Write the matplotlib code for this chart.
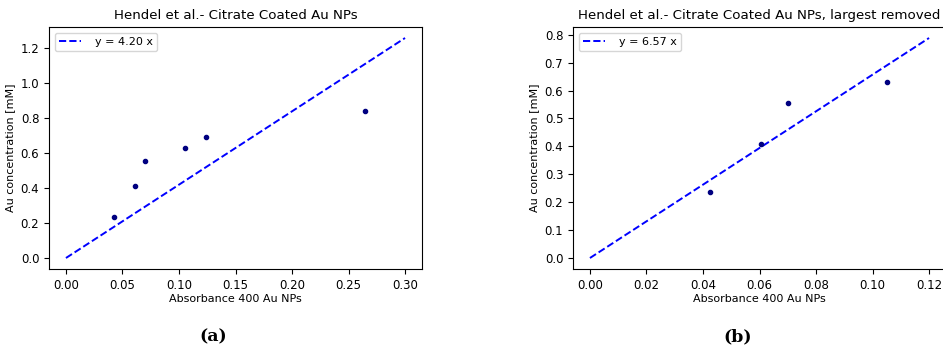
import matplotlib
matplotlib.use("Agg")
import matplotlib.pyplot as plt
import numpy as np

abs_a = [0.0425, 0.0607, 0.070, 0.105, 0.124, 0.265]
conc_a = [0.235, 0.41, 0.556, 0.632, 0.695, 0.84]
slope_a = 4.20
abs_b = [0.0425, 0.0607, 0.070, 0.105]
conc_b = [0.235, 0.41, 0.556, 0.632]
slope_b = 6.57
xmax_a = 0.30
xmax_b = 0.12
titles = ["Hendel et al.- Citrate Coated Au NPs", "Hendel et al.- Citrate Coated Au NPs, largest removed"]
panel_labels = ["(a)", "(b)"]

fig = plt.figure(figsize=(9.43, 3.48), dpi=100)
ax1 = fig.add_axes([49/943, 1-269/348, (422-49)/943, (269-27)/348])
ax2 = fig.add_axes([573/943, 1-269/348, (946-573)/943, (269-27)/348])

for ax, xs, ys, s, xm, t in [(ax1, abs_a, conc_a, slope_a, xmax_a, titles[0]),
                              (ax2, abs_b, conc_b, slope_b, xmax_b, titles[1])]:
    xl = np.array([0, xm])
    ax.plot(xl, s * xl, '--', color='blue', label=f"y = {s:.2f} x", lw=1.4)
    ax.plot(xs, ys, 'o', color='navy', ms=3)
    ax.set_title(t, fontsize=9.6)
    ax.set_xlabel("Absorbance 400 Au NPs", fontsize=8, labelpad=1.5)
    ax.set_ylabel("Au concentration [mM]", fontsize=8, labelpad=4)
    ax.tick_params(labelsize=8.5)
    ax.legend(loc='upper left', fontsize=8, handletextpad=1.2)

ax1.set_yticks(np.arange(0, 1.21, 0.2))
ax2.set_yticks(np.arange(0, 0.81, 0.1))

fig.text(213/943, 1-337/348, panel_labels[0], family='DejaVu Serif', weight='bold', fontsize=12.5, ha='center', va='center')
fig.text(738/943, 1-337/348, panel_labels[1], family='DejaVu Serif', weight='bold', fontsize=12.5, ha='center', va='center')

fig.savefig("out.png", dpi=100)
